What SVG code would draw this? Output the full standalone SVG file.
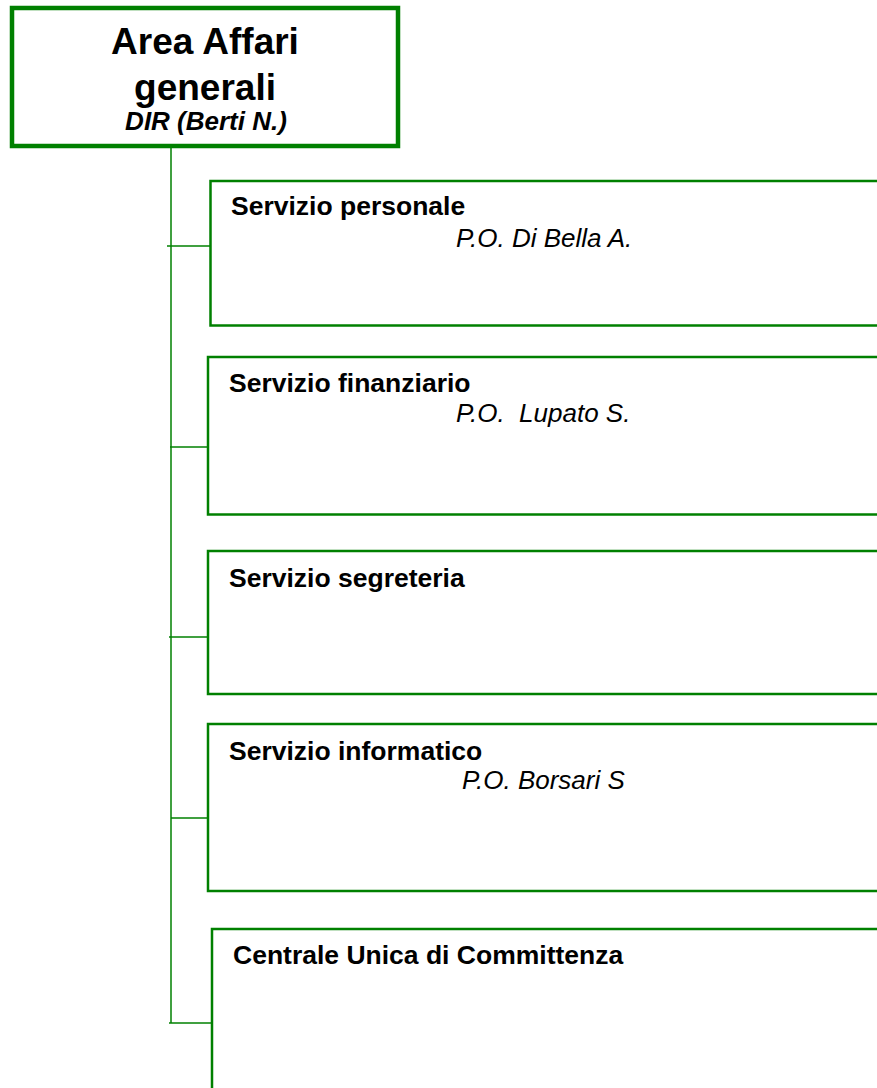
<svg xmlns="http://www.w3.org/2000/svg" width="877" height="1088" viewBox="0 0 877 1088">
<style>
.box{fill:#fff;stroke:#008000;stroke-width:2.5}
.top{fill:#fff;stroke:#008000;stroke-width:4.5}
.con{stroke:#008000;stroke-width:1.5;fill:none}
.t{font-family:"Liberation Sans",Arial,sans-serif;fill:#000}
.h{font-weight:bold;font-size:26.5px}
.p{font-style:italic;font-size:26px}
</style>
<rect width="877" height="1088" fill="#fff"/>
<g id="connectors">
<line class="con" x1="171" y1="148" x2="171" y2="1023"/>
<line class="con" x1="167" y1="246" x2="210" y2="246"/>
<line class="con" x1="170" y1="447" x2="208" y2="447"/>
<line class="con" x1="169" y1="637" x2="208" y2="637"/>
<line class="con" x1="171" y1="818" x2="208" y2="818"/>
<line class="con" x1="169" y1="1023" x2="212" y2="1023"/>
</g>
<g id="area-affari">
<rect class="top" x="12" y="8" width="386" height="138"/>
<text class="t" x="205" y="54" text-anchor="middle" font-size="37" font-weight="bold">Area Affari</text>
<text class="t" x="205" y="100" text-anchor="middle" font-size="37" font-weight="bold">generali</text>
<text class="t" x="206" y="130" text-anchor="middle" font-size="26" font-weight="bold" font-style="italic">DIR (Berti N.)</text>
</g>
<g id="servizio-personale">
<rect class="box" x="210.5" y="181" width="700" height="144.5"/>
<text class="t h" x="231" y="215">Servizio personale</text>
<text class="t p" x="456" y="247">P.O. Di Bella A.</text>
</g>
<g id="servizio-finanziario">
<rect class="box" x="208" y="357" width="700" height="157.5"/>
<text class="t h" x="229" y="392">Servizio finanziario</text>
<text class="t p" x="456" y="422" xml:space="preserve">P.O.  Lupato S.</text>
</g>
<g id="servizio-segreteria">
<rect class="box" x="208" y="551" width="700" height="143"/>
<text class="t h" x="229" y="587">Servizio segreteria</text>
</g>
<g id="servizio-informatico">
<rect class="box" x="208" y="724" width="700" height="167"/>
<text class="t h" x="229" y="760">Servizio informatico</text>
<text class="t p" x="462" y="789">P.O. Borsari S</text>
</g>
<g id="cuc">
<rect class="box" x="212" y="929" width="700" height="200"/>
<text class="t h" x="233" y="964">Centrale Unica di Committenza</text>
</g>
</svg>
